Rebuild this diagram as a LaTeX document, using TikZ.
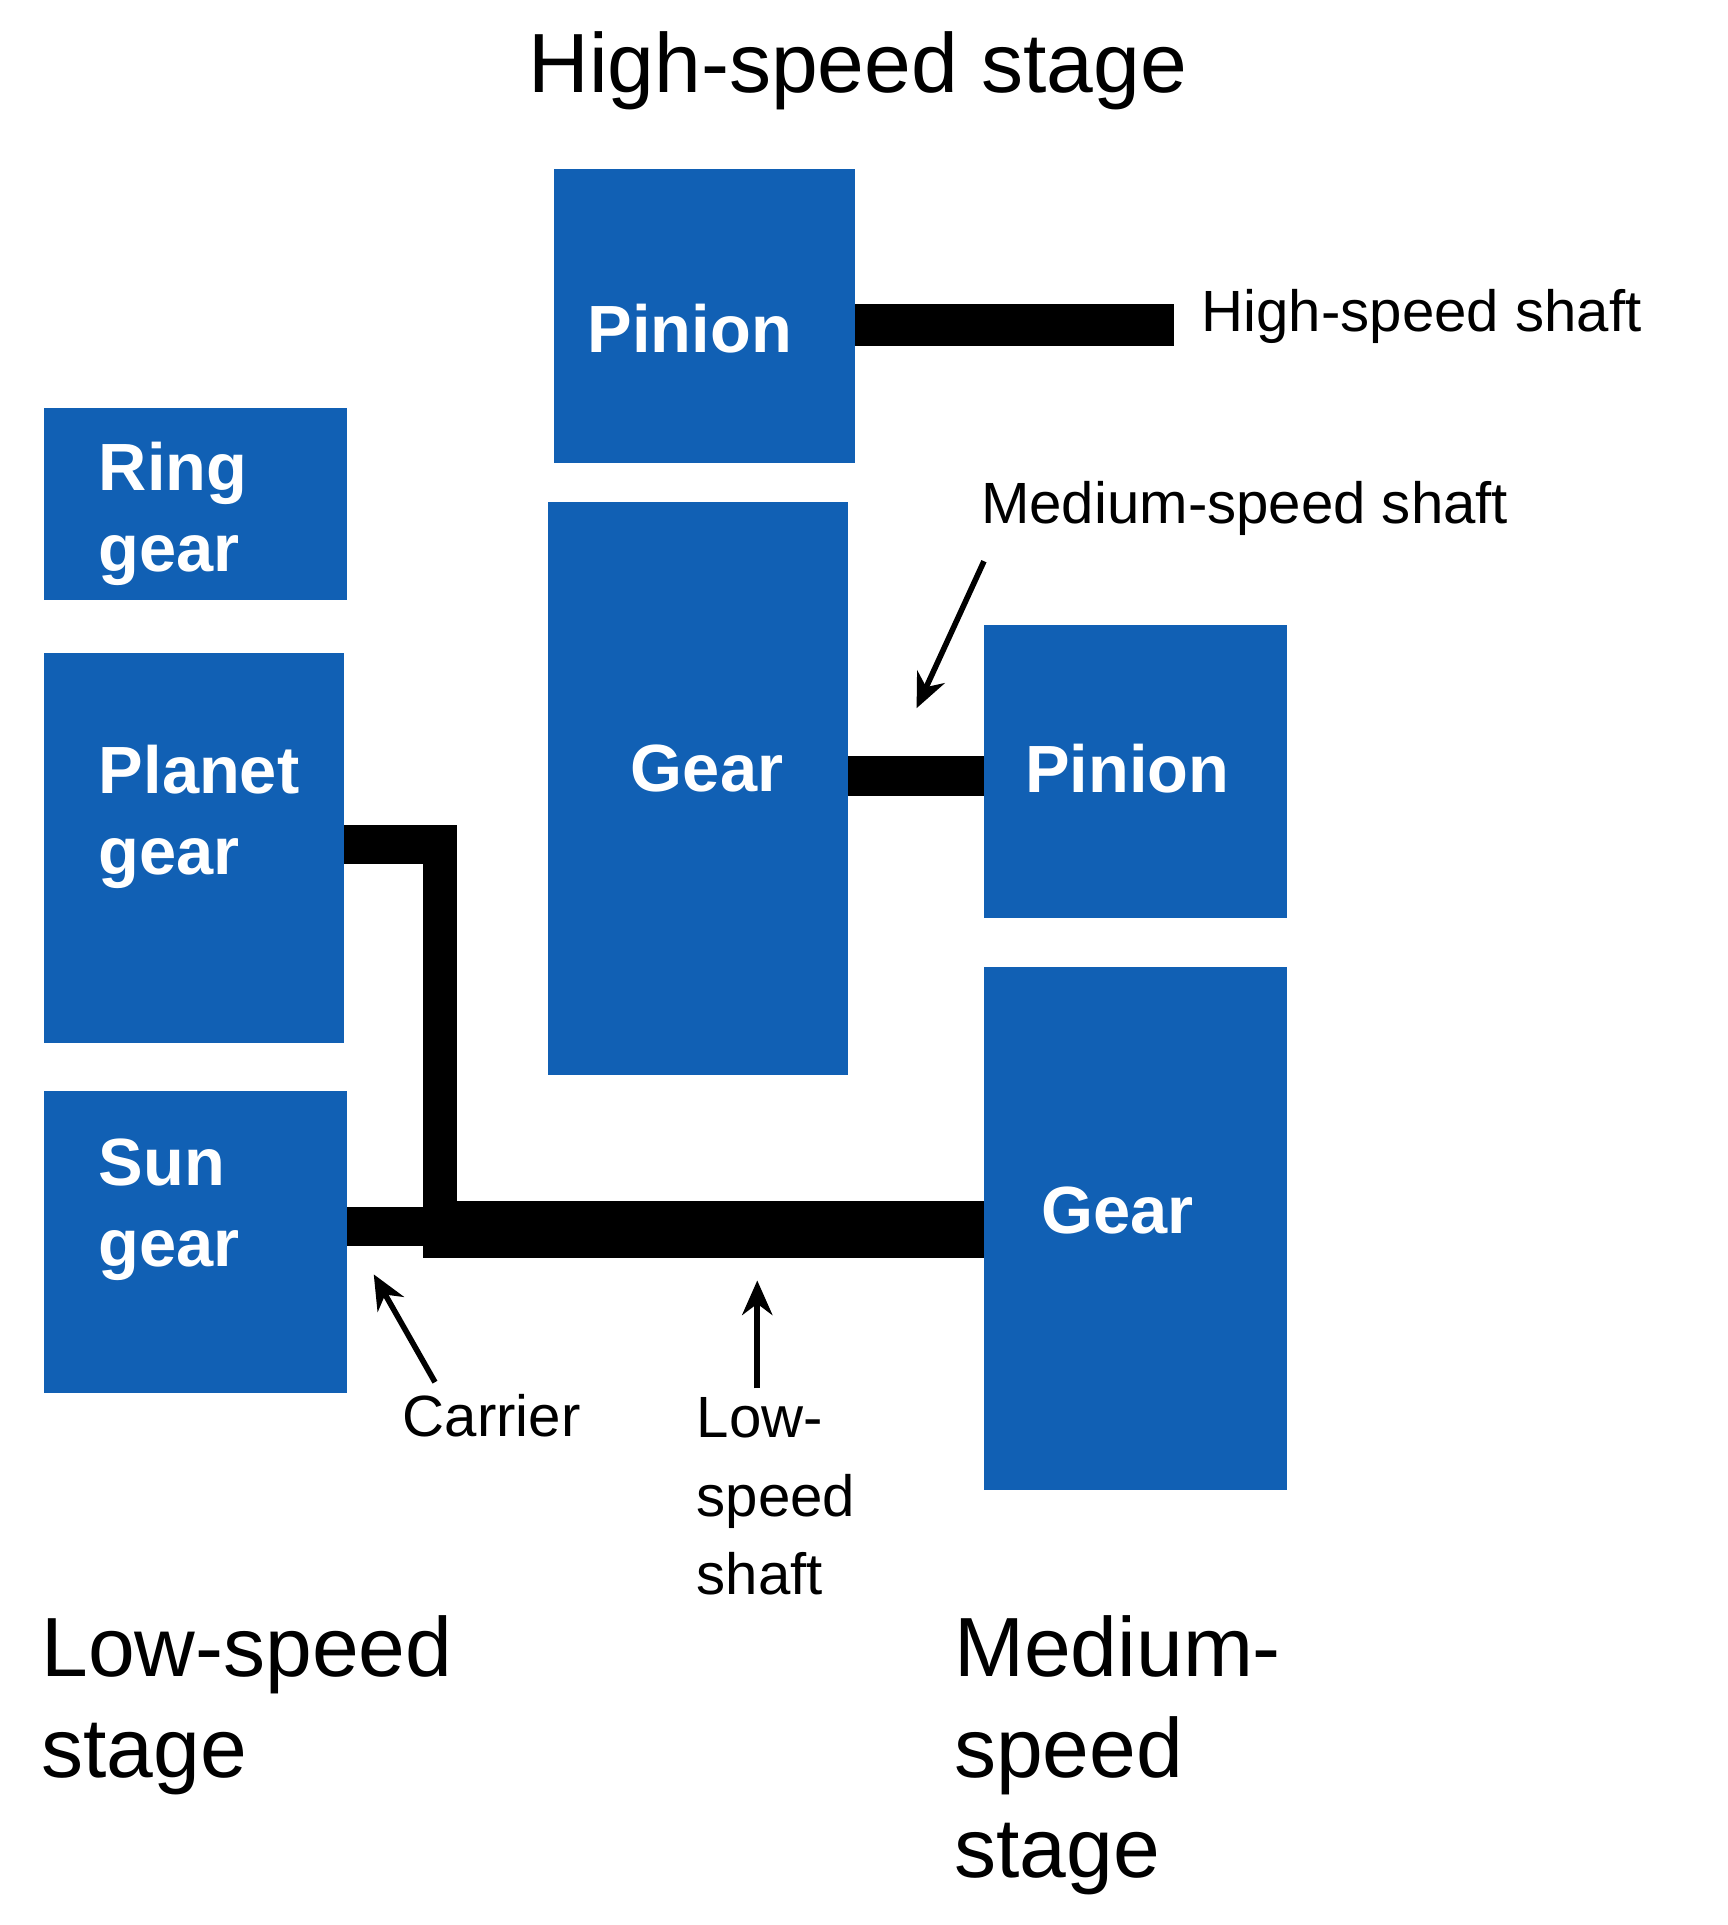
\documentclass[tikz,border=0pt]{standalone}
\usepackage{fontspec}
\usetikzlibrary{arrows.meta}
\setmainfont{Liberation Sans}
\definecolor{gblue}{HTML}{1160B4}
\begin{document}
\begin{tikzpicture}[x=0.01cm,y=-0.01cm,
  box/.style={fill=gblue,draw=none},
  blab/.style={text=white,font=\fontsize{15.5}{18.8}\selectfont\bfseries,align=left,inner sep=0},
  small/.style={font=\fontsize{13.5}{18.2}\selectfont,align=left,inner sep=0,anchor=west},
  big/.style={font=\fontsize{19.5}{23.3}\selectfont,align=left,inner sep=0,anchor=north west},
  arr/.style={-{Stealth[length=8pt,width=7pt]},line width=1.3pt}]
\useasboundingbox (0,0) rectangle (1410,1571);
% boxes
\fill[box] (452,138) rectangle (698,378);
\fill[box] (36,333) rectangle (283,490);
\fill[box] (36,533) rectangle (281,851);
\fill[box] (36,890) rectangle (283,1137);
\fill[box] (447,410) rectangle (692,877);
\fill[box] (803,510) rectangle (1050,749);
\fill[box] (803,789) rectangle (1050,1216);
% shafts
\fill (698,248) rectangle (958,282);
\fill (692,617) rectangle (803,650);
\fill (281,673) rectangle (373,705);
\fill (345,673) rectangle (373,1027);
\fill (283,985) rectangle (345,1017);
\fill (345,980) rectangle (803,1027);
% box labels
\node[blab] (pin1) at (563,268) {Pinion};
\node[blab,anchor=west] (ring) at (80,419) {Ring\\gear};
\node[blab,anchor=west] (planet) at (80,667) {Planet\\gear};
\node[blab,anchor=west] (sun) at (80,987) {Sun\\gear};
\node[blab] (gear1) at (577,627) {Gear};
\node[blab] (pin2) at (920,627) {Pinion};
\node[blab] (gear2) at (912,988) {Gear};
% labels
\node[big,anchor=center] (hs) at (700,58) {High-speed stage};
\node[small] (hss) at (980,258) {High-speed shaft};
\node[small] (mss) at (800,415) {Medium-speed shaft};
\node[small] (car) at (328,1155) {Carrier};
\node[small,anchor=north west] (lss) at (568,1140) {Low-\\speed\\shaft};
\node[big] (ls) at (33,1318) {Low-speed\\stage};
\node[big] (ms) at (778,1318) {Medium-\\speed\\stage};
% arrows
\coordinate (a1) at (803,458); \coordinate (b1) at (748,578);
\coordinate (a2) at (355,1128); \coordinate (b2) at (305,1040);
\coordinate (a3) at (618,1133); \coordinate (b3) at (618,1045);
\draw[arr] (a1) -- (b1);
\draw[arr] (a2) -- (b2);
\draw[arr] (a3) -- (b3);
\end{tikzpicture}
\end{document}
